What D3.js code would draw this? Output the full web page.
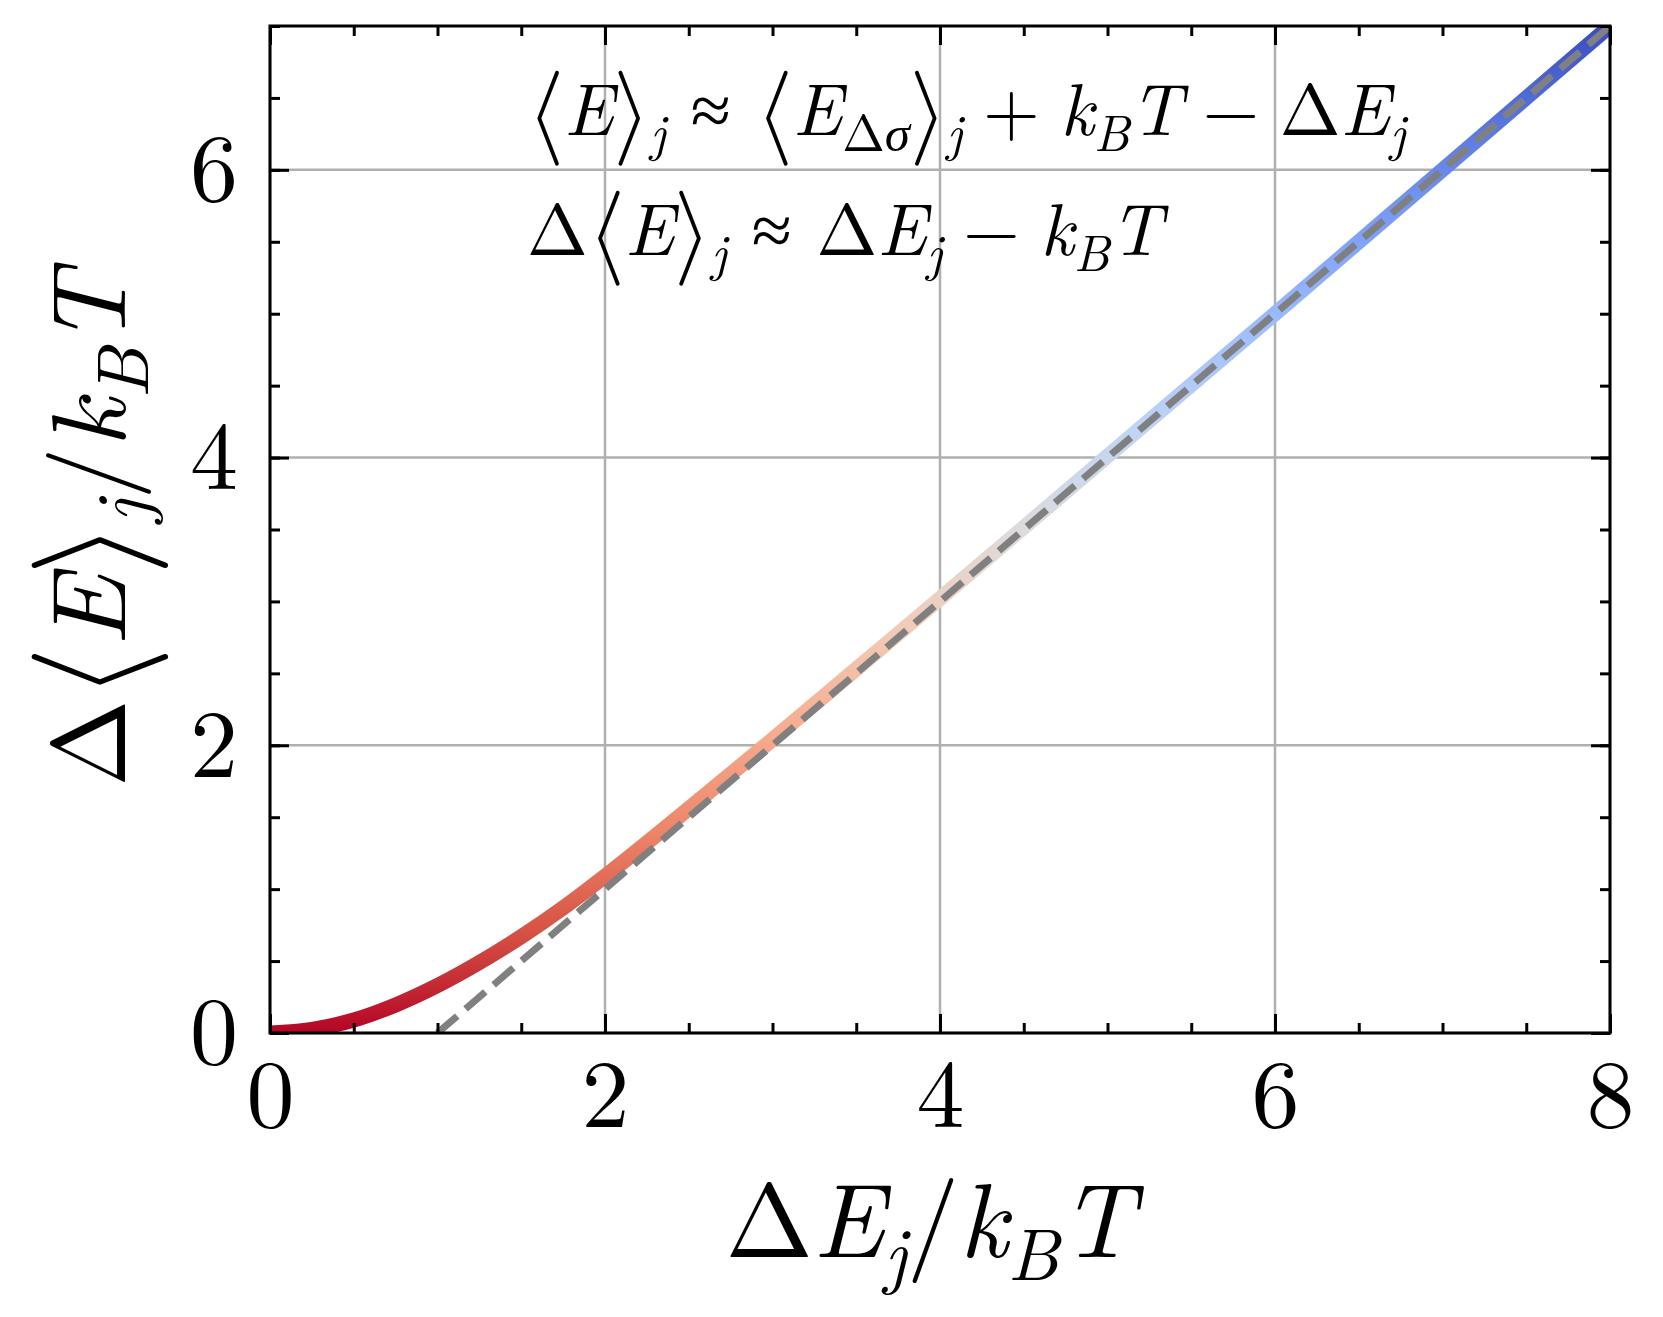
<!DOCTYPE html>
<html>
<head>
<meta charset="utf-8">
<script src="https://cdn.jsdelivr.net/npm/d3@7"></script>
<style>
  body { margin: 0; background: #fff; }
</style>
</head>
<body>
<svg id="chart"></svg>
<script>
// curve: x = dE_j/kT, y = d<E>_j/kT
var xVals = [0, 0.25, 0.5, 0.75, 1, 1.25, 1.5, 1.75, 2, 2.5, 3, 3.5, 4, 5, 6, 7, 8];
var yVals = [0, 0.025, 0.09, 0.195, 0.33, 0.49, 0.67, 0.87, 1.09, 1.56, 2.04, 2.53, 3.02, 4.01, 5.0, 6.0, 7.0];
// dashed guide  y = x - 1
var refX = [1, 8];
var refY = [0, 7];
var xTicks = [0, 2, 4, 6, 8];
var yTicks = [0, 2, 4, 6];
var xMinor = d3.range(0, 8.01, 0.5);
var yMinor = d3.range(0, 7.01, 0.5);
// coolwarm reversed, low y -> red, high y -> blue
var cmap = ["#b40426", "#d65244", "#ee8468", "#f7ac8e", "#f2cbb7", "#dddcdc",
            "#c0d4f5", "#9ebeff", "#7b9ff9", "#5977e3", "#3b4cc0"];

var width = 1663, height = 1317;
var margin = { top: 26, right: 53, bottom: 284, left: 270 };
var w = width - margin.left - margin.right;
var h = height - margin.top - margin.bottom;
var serif = "'Latin Modern Roman', 'CMU Serif', 'Liberation Serif', 'DejaVu Serif', serif";
var mathFont = "'Latin Modern Math', 'Latin Modern Roman', serif";

var svg = d3.select("#chart").attr("width", width).attr("height", height);

var xs = d3.scaleLinear().domain([0, 8]).range([0, w]);
var ys = d3.scaleLinear().domain([0, 7]).range([h, 0]);

var defs = svg.append("defs");
defs.append("clipPath").attr("id", "clip")
  .append("rect").attr("width", w).attr("height", h);

var grad = defs.append("linearGradient")
  .attr("id", "cw")
  .attr("gradientUnits", "userSpaceOnUse")
  .attr("x1", 0).attr("x2", 0)
  .attr("y1", ys(0)).attr("y2", ys(7));
grad.selectAll("stop").data(cmap).enter().append("stop")
  .attr("offset", function (d, i) { return i / (cmap.length - 1); })
  .attr("stop-color", function (d) { return d; });

var g = svg.append("g")
  .attr("transform", "translate(" + margin.left + "," + margin.top + ")");

// grid
g.append("g").selectAll("line").data(xTicks).enter().append("line")
  .attr("x1", xs).attr("x2", xs).attr("y1", 0).attr("y2", h)
  .attr("stroke", "#b0b0b0").attr("stroke-width", 2.5);
g.append("g").selectAll("line").data(yTicks).enter().append("line")
  .attr("y1", ys).attr("y2", ys).attr("x1", 0).attr("x2", w)
  .attr("stroke", "#b0b0b0").attr("stroke-width", 2.5);

var plot = g.append("g").attr("clip-path", "url(#clip)");

var line = d3.line()
  .x(function (d) { return xs(d[0]); })
  .y(function (d) { return ys(d[1]); })
  .curve(d3.curveMonotoneX);

plot.append("path")
  .datum(d3.zip(xVals, yVals))
  .attr("d", line)
  .attr("fill", "none")
  .attr("stroke", "url(#cw)")
  .attr("stroke-width", 15);

plot.append("path")
  .datum(d3.zip(refX, refY))
  .attr("d", d3.line().x(function (d) { return xs(d[0]); }).y(function (d) { return ys(d[1]); }))
  .attr("fill", "none")
  .attr("stroke", "#808080")
  .attr("stroke-width", 7)
  .attr("stroke-dasharray", "26,11");

// ticks, all inward
function styleAxis(sel) {
  sel.select(".domain").remove();
  sel.selectAll(".tick line").attr("stroke", "#000").attr("stroke-width", 3);
  sel.selectAll(".tick text")
    .style("font-family", serif).style("font-size", "96px").attr("fill", "#000");
}
g.append("g").attr("transform", "translate(0," + h + ")")
  .call(d3.axisBottom(xs).tickValues(xMinor).tickSize(-10).tickFormat(""))
  .call(styleAxis);
g.append("g")
  .call(d3.axisTop(xs).tickValues(xMinor).tickSize(-10).tickFormat(""))
  .call(styleAxis);
g.append("g")
  .call(d3.axisLeft(ys).tickValues(yMinor).tickSize(-10).tickFormat(""))
  .call(styleAxis);
g.append("g").attr("transform", "translate(" + w + ",0)")
  .call(d3.axisRight(ys).tickValues(yMinor).tickSize(-10).tickFormat(""))
  .call(styleAxis);

g.append("g").attr("transform", "translate(0," + h + ")")
  .call(d3.axisBottom(xs).tickValues(xTicks).tickSize(-19).tickPadding(26).tickFormat(d3.format("d")))
  .call(styleAxis);
g.append("g")
  .call(d3.axisTop(xs).tickValues(xTicks).tickSize(-19).tickFormat(""))
  .call(styleAxis);
g.append("g")
  .call(d3.axisLeft(ys).tickValues(yTicks).tickSize(-19).tickPadding(32).tickFormat(d3.format("d")))
  .call(styleAxis);
g.append("g").attr("transform", "translate(" + w + ",0)")
  .call(d3.axisRight(ys).tickValues(yTicks).tickSize(-19).tickFormat(""))
  .call(styleAxis);

g.append("rect")
  .attr("width", w).attr("height", h)
  .attr("fill", "none").attr("stroke", "#000").attr("stroke-width", 3);

// lay math out piece by piece: {t, it, sub, br, pre, post}
function mathRow(parent, parts, size) {
  var grp = parent.append("g");
  var x = 0;
  parts.forEach(function (p) {
    var fs = p.sub ? size * 0.7 : (p.br ? size * 1.3 : size);
    var pre = (p.pre || 0) * size;
    var t = grp.append("text").text(p.t)
      .style("font-family", p.br ? mathFont : serif)
      .style("font-size", fs + "px")
      .style("font-style", p.it ? "italic" : "normal")
      .attr("fill", "#000")
      .attr("x", x + pre)
      .attr("y", p.sub ? size * 0.22 : (p.br ? size * 0.09 : 0));
    x += pre + t.node().getComputedTextLength() + (p.post || 0) * size;
  });
  return { g: grp, w: x };
}

var rel = 0.34, bin = 0.28;

// x label
var xl = mathRow(svg, [
  { t: "Δ" }, { t: "E", it: 1 }, { t: "j", it: 1, sub: 1 },
  { t: "/" }, { t: "k", it: 1 }, { t: "B", it: 1, sub: 1 }, { t: "T", it: 1 }
], 105);
xl.g.attr("transform", "translate(" + (930 - xl.w / 2) + ",1257)");

// y label
var yl = mathRow(svg, [
  { t: "Δ" }, { t: "⟨", br: 1 }, { t: "E", it: 1 }, { t: "⟩", br: 1 }, { t: "j", it: 1, sub: 1 },
  { t: "/" }, { t: "k", it: 1 }, { t: "B", it: 1, sub: 1 }, { t: "T", it: 1 }
], 105);
yl.g.attr("transform", "translate(125," + (margin.top + h / 2 + yl.w / 2) + ") rotate(-90)");

// annotation
var a1 = mathRow(svg, [
  { t: "⟨", br: 1 }, { t: "E", it: 1 }, { t: "⟩", br: 1 }, { t: "j", it: 1, sub: 1 },
  { t: "≈", pre: rel, post: rel }, { t: "⟨", br: 1 }, { t: "E", it: 1 }, { t: "Δ", sub: 1 },
  { t: "σ", it: 1, sub: 1 }, { t: "⟩", br: 1 }, { t: "j", it: 1, sub: 1 },
  { t: "+", pre: bin, post: bin }, { t: "k", it: 1 }, { t: "B", it: 1, sub: 1 },
  { t: "T", it: 1 }, { t: "−", pre: bin, post: bin }, { t: "Δ" }, { t: "E", it: 1 },
  { t: "j", it: 1, sub: 1 }
], 73);
a1.g.attr("transform", "translate(527,135)");

var a2 = mathRow(svg, [
  { t: "Δ" }, { t: "⟨", br: 1 }, { t: "E", it: 1 }, { t: "⟩", br: 1 }, { t: "j", it: 1, sub: 1 },
  { t: "≈", pre: rel, post: rel }, { t: "Δ" }, { t: "E", it: 1 }, { t: "j", it: 1, sub: 1 },
  { t: "−", pre: bin, post: bin }, { t: "k", it: 1 }, { t: "B", it: 1, sub: 1 }, { t: "T", it: 1 }
], 73);
a2.g.attr("transform", "translate(527,255)");
</script>
</body>
</html>
